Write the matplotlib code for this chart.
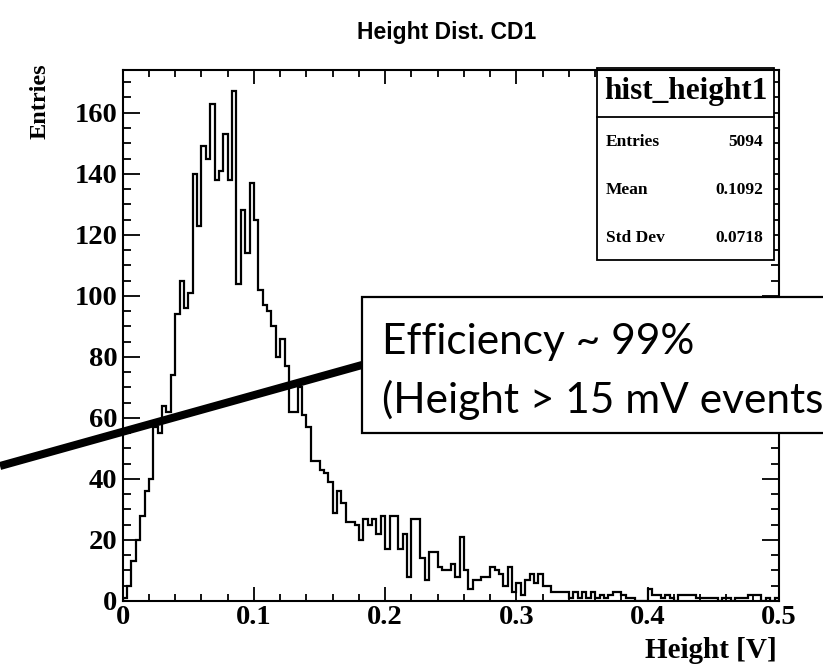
import numpy as np
import matplotlib.pyplot as plt
from matplotlib.patches import Rectangle
from matplotlib.lines import Line2D
from matplotlib.ticker import MultipleLocator

# histogram: 150 bins from 0 to 0.5 V
x_min, x_max, n_bins = 0.0, 0.5, 150
counts = [
    1, 5, 13, 20, 28, 36, 40, 57, 55, 64, 62, 74, 94,
    105, 96, 101, 140, 123, 149, 145, 163, 138, 141, 153, 138, 167,
    104, 128, 114, 137, 125, 102, 97, 95, 90, 80, 86, 77, 62, 62, 70, 61, 57,
    46, 46, 43, 42, 39, 29, 36, 32, 26, 26, 25, 20, 27, 25, 27, 22, 28,
    17, 28, 28, 17, 22, 8, 27, 27, 14, 7, 16, 16, 11, 10, 10, 12, 8, 21, 10, 4,
    7, 7, 8, 8, 11, 10, 9, 5, 11, 3, 6, 2, 7, 9, 6, 9,
    5, 5, 3, 3, 3, 3, 1, 3, 1, 3, 1, 3, 1, 2, 1, 2, 3, 3, 2, 1, 1, 0, 0, 0,
    4, 2, 2, 1, 2, 1, 0, 2, 2, 2, 2, 1, 1, 1, 1, 1, 0, 1, 1, 0, 1, 1, 1, 2,
    2, 2, 0, 1, 0, 1,
]
counts = counts[:n_bins]

xticks = [0.0, 0.1, 0.2, 0.3, 0.4, 0.5]
xtick_labels = ["0", "0.1", "0.2", "0.3", "0.4", "0.5"]
yticks = [0, 20, 40, 60, 80, 100, 120, 140, 160]
ytick_labels = [str(v) for v in yticks]

title = "Height Dist. CD1"
x_title = "Height [V]"
y_title = "Entries"
stats_name = "hist_height1"
stats_rows = [("Entries", "5094"), ("Mean", "0.1092"), ("Std Dev", "0.0718")]
note_lines = ["Efficiency ~ 99%", "(Height > 15 mV events)"]

W, H = 823, 670
serif = "Liberation Serif"


def fx(px):
    return px / W


def fy(py):
    return 1 - py / H


fig = plt.figure(figsize=(W / 100, H / 100), dpi=100)
ax = fig.add_axes([fx(122.7), fy(601), fx(779) - fx(122.7), fy(70) - fy(601)])

edges = np.linspace(x_min, x_max, n_bins + 1)
ax.stairs(counts, edges, color="black", linewidth=1.6, baseline=0, zorder=2)

ax.set_xlim(x_min, x_max)
ax.set_ylim(0, 174)
ax.set_xticks(xticks)
ax.set_xticklabels(xtick_labels)
ax.set_yticks(yticks)
ax.set_yticklabels(ytick_labels)
ax.xaxis.set_minor_locator(MultipleLocator(0.02))
ax.yaxis.set_minor_locator(MultipleLocator(5))
ax.tick_params(which="both", direction="in", top=True, right=True, width=1.3)
ax.xaxis.set_tick_params(which="major", length=10, pad=3)
ax.xaxis.set_tick_params(which="minor", length=5)
ax.yaxis.set_tick_params(which="major", length=12, pad=4)
ax.yaxis.set_tick_params(which="minor", length=6)
for lab in ax.get_xticklabels() + ax.get_yticklabels():
    lab.set_fontfamily(serif)
    lab.set_fontweight("bold")
    lab.set_fontsize(20.5)
for sp in ax.spines.values():
    sp.set_linewidth(1.5)

# titles
fig.text(fx(447), fy(33), title, ha="center", va="center",
         fontsize=16.5, fontweight="bold", family="Liberation Sans")
fig.text(fx(40), fy(63), y_title, rotation=90, ha="center", va="top",
         fontsize=17.5, fontweight="bold", family=serif)
fig.text(fx(777), fy(650), x_title, ha="right", va="center",
         fontsize=21, fontweight="bold", family=serif)

# stats box
bx0, bx1, by0, by1 = 597, 774, 68, 260
ax.add_patch(Rectangle((fx(bx0), fy(by1)), fx(bx1) - fx(bx0), fy(by0) - fy(by1),
                       transform=fig.transFigure, facecolor="white",
                       edgecolor="black", linewidth=1.3, zorder=2.2, clip_on=False))
ax.add_line(Line2D([fx(bx0), fx(bx1)], [fy(116.7), fy(116.7)], transform=fig.transFigure,
                   color="black", linewidth=1.3, zorder=2.3, clip_on=False))
fig.text(fx((bx0 + bx1) / 2), fy(92), stats_name, ha="center", va="center",
         fontsize=22.5, fontweight="bold", family=serif)
for i, (name, val) in enumerate(stats_rows):
    yy = fy(141.7 + 48.3 * i)
    fig.text(fx(606), yy, name, ha="left", va="center",
             fontsize=12.5, fontweight="bold", family=serif)
    fig.text(fx(763), yy, val, ha="right", va="center",
             fontsize=12.5, fontweight="bold", family=serif)

# annotation overlay
fig.add_artist(Line2D([fx(0), fx(362)], [fy(466), fy(365)], color="black",
                      linewidth=5.8, solid_capstyle="butt", zorder=5))
fig.add_artist(Rectangle((fx(362), fy(433)), fx(900) - fx(362), fy(297) - fy(433),
                         facecolor="white", edgecolor="black", linewidth=1.6, zorder=6))
fig.text(fx(382), fy(342), note_lines[0], ha="left", va="center",
         fontsize=30.5, family="Lato", zorder=7)
fig.text(fx(382), fy(400), note_lines[1], ha="left", va="center",
         fontsize=30.5, family="Lato", zorder=7)

fig.savefig("out.png", dpi=100)
